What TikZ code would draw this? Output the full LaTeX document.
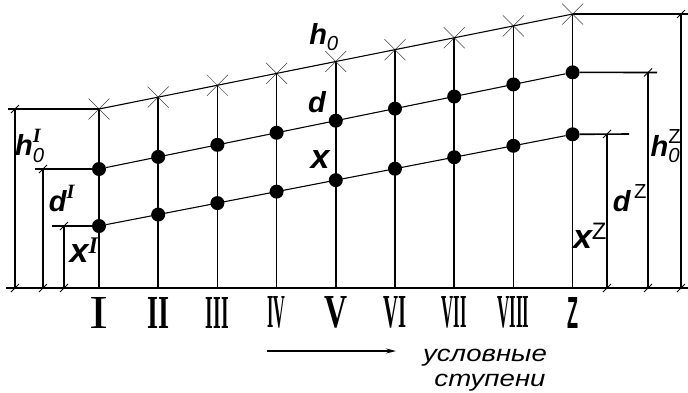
\documentclass[tikz,border=0pt]{standalone}
\usepackage{amsmath}
\usepackage{fontspec}
\setmainfont{Liberation Sans}
\newfontfamily\rimfont{Liberation Serif}
\usetikzlibrary{arrows.meta}

\tikzset{
	dim/.style={line width=1.6pt},
	col/.style={line width=1.5pt},
	slope/.style={line width=1.1pt},
	dot/.style={circle,fill=black,inner sep=0pt,minimum size=14pt},
	lbl/.style={inner sep=0pt,font=\bfseries\itshape\fontsize{29}{29}\selectfont},
	xlbl/.style={inner sep=0pt,font=\bfseries\itshape\fontsize{34}{34}\selectfont},
	capt/.style={anchor=base,inner sep=0pt,font=\itshape\fontsize{23}{23}\selectfont},
}
\newcommand{\crossmark}[1]{\draw[line width=0.5pt,black!75] (#1) ++(-10.5,-10.5) -- ++(21,21) (#1) ++(-10.5,10.5) -- ++(21,-21);}
\newcommand{\dimtick}[1]{\draw[line width=0.8pt] (#1) ++(-4,4) -- ++(8,-8);}
\newcommand{\supI}{\text{\rimfont\bfseries\itshape I}}
\newcommand{\supZ}{\text{\mdseries\upshape Z}}

\begin{document}
\begin{tikzpicture}[x=1pt,y=-1pt]
		\useasboundingbox (0,0) rectangle (688,392);
		
		% steps I ... Z
		\foreach \r/\w/\f [count=\i from 0] in {I/19/\rimfont\mdseries,II/22/\rimfont\bfseries,III/23/\rimfont\bfseries,IV/18/\rimfont\bfseries,V/23/\rimfont\bfseries,VI/23/\rimfont\bfseries,VII/25/\rimfont\bfseries,VIII/32/\rimfont\bfseries,Z/11/\bfseries}{
			\coordinate (b\i) at ({99+59.2*\i},288);
			\coordinate (h\i) at ({99+59.2*\i},{109-11.87*\i});
			\node [dot] (d\i) at ({99+59.2*\i},{169-12.08*\i}) {};
			\node [dot] (x\i) at ({99+59.2*\i},{226-11.46*\i}) {};
			\node [inner sep=0pt] (n\i) at ({99+59.2*\i},312.5) {\resizebox{\w pt}{31pt}{\f\r}};
		}
		\foreach \i in {0,...,8}{
			\draw [col] (b\i) -- (h\i);
			\crossmark{h\i}
		}
		\draw [slope] (h0) -- (h8);
		\draw [slope] (d0) -- (d8);
		\draw [slope] (x0) -- (x8);
		
		% base line
		\coordinate (bl) at (6,288);
		\coordinate (br) at (688,288);
		\draw [dim] (bl) -- (br);
		
		% sizes at step I
		\coordinate (hIe) at (8,109);
		\coordinate (hIt) at (15,109);
		\coordinate (hIb) at (15,288);
		\coordinate (dIe) at (35,169);
		\coordinate (dIt) at (43,169);
		\coordinate (dIb) at (43,288);
		\coordinate (xIe) at (52,226);
		\coordinate (xIt) at (64,226);
		\coordinate (xIb) at (64,288);
		\draw [dim] (hIe) -- (h0);
		\draw [line width=2.4pt] (dIe) -- (d0);
		\draw [dim] (xIe) -- (x0);
		\draw [dim] (hIt) -- (hIb);
		\draw [dim] (dIt) -- (dIb);
		\draw [dim] (xIt) -- (xIb);
		
		% sizes at step Z
		\coordinate (hZe) at (688,14);
		\coordinate (hZt) at (681,14);
		\coordinate (hZb) at (681,288);
		\coordinate (dZe) at (657,72.5);
		\coordinate (dZt) at (648,72.5);
		\coordinate (dZb) at (648,288);
		\coordinate (xZe) at (629,134);
		\coordinate (xZt) at (607,134);
		\coordinate (xZb) at (607,288);
		\draw [dim] (h8) -- (hZe);
		\draw [dim] (d8) -- (dZe);
		\draw [dim] (x8) -- (xZe);
		\draw [dim] (hZt) -- (hZb);
		\draw [dim] (dZt) -- (dZb);
		\draw [dim] (xZt) -- (xZb);
		
		\foreach \p in {hIt,hIb,dIt,dIb,xIt,xIb,hZt,hZb,dZt,dZb,xZt,xZb}{
			\dimtick{\p}
		}
		
		% labels
		\node [lbl] (lh) at (324,37) {$\textit{h}_{\text{\mdseries 0}}$};
		\node [lbl] (ld) at (317,102) {d};
		\node [xlbl] (lx) at (320,160) {x};
		\node [lbl] (lhI) at (30,146) {$\textit{h}^{\supI}_{\text{\mdseries 0}}$};
		\node [lbl] (ldI) at (62,198) {$\textit{d}^{\supI}$};
		\node [xlbl] (lxI) at (84,250) {$\textit{x}^{\supI}$};
		\node [xlbl] (lxZ) at (590,236) {$\textit{x}^{\supZ}$};
		\node [lbl] (ldZ) at (630,198) {$\textit{d}^{\,\supZ}$};
		\node [lbl] (lhZ) at (666,146) {$\textit{h}^{\supZ}_{\text{\mdseries 0}}$};
		
		% direction of steps
		\coordinate (as) at (267,351);
		\coordinate (ae) at (396,351);
		\draw [-{Stealth[length=10pt,width=5pt]},line width=1.2pt] (as) -- (ae);
		\node [capt] (cap1) at (485,361) {\scalebox{1.2}[1]{условные}};
		\node [capt] (cap2) at (490,386) {\scalebox{1.2}[1]{ступени}};
\end{tikzpicture}
\end{document}
